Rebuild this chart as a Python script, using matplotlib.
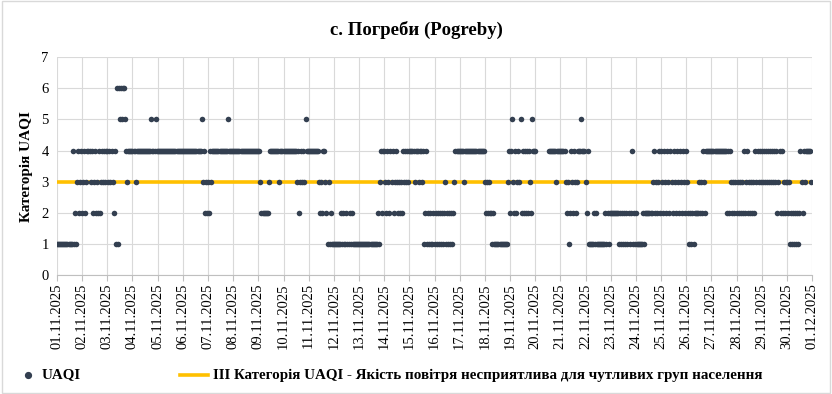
import numpy as np
import matplotlib
matplotlib.use("Agg")
import matplotlib.pyplot as plt
from matplotlib.lines import Line2D

# Hourly UAQI category per day (24 digits per day, '-' = no data), 01.11.2025 .. 30.11.2025
uaqi_days = [
    "111111111111111412134234",  # 01.11
    "234234443423423242343434",  # 02.11
    "434343241616565665434444",  # 03.11
    "444344444444444444544454",  # 04.11
    "444444444444444444444444",  # 05.11
    "444444444444444444534232",  # 06.11
    "324344444444444444454444",  # 07.11
    "444444444444444444444444",  # 08.11
    "443222222234444444443444",  # 09.11
    "444444444444434234343544",  # 10.11
    "444444444432324432131211",  # 11.11
    "111111121211211212111111",  # 12.11
    "111111111111111111213424",  # 13.11
    "432432434234323232434343",  # 14.11
    "444443444344341241212112",  # 15.11
    "121212121231212121234444",  # 16.11
    "444434444444444444444444",  # 17.11
    "323232212111111111111134",  # 18.11
    "245324234352424242432544",  # 19.11
    "4------------44444443444",  # 20.11
    "444443231243243234445444",  # 21.11
    "324111112121111111121212",  # 22.11
    "222222221212121212124121",  # 23.11
    "211111121222222234232342",  # 24.11
    "432432432432432432432432",  # 25.11
    "432121212222323243244444",  # 26.11
    "444444444444444242432323",  # 27.11
    "232323242342323232434343",  # 28.11
    "434343434343434234242323",  # 29.11
    "323121212121243243444443",  # 30.11
]
tick_labels = [f"{d:02d}.11.2025" for d in range(1, 31)] + ["01.12.2025"]
threshold_value = 3
title = "с. Погреби (Pogreby)"
ylabel = "Категорія UAQI"
legend_points = "UAQI"
legend_line = "III Категорія UAQI - Якість повітря несприятлива для чутливих груп населення"

vals = []
for s in uaqi_days:
    for ch in s:
        vals.append(np.nan if ch == "-" else float(ch))
vals = np.array(vals)
x = np.arange(len(vals)) / 24.0

plt.rcParams["font.family"] = ["Liberation Serif", "DejaVu Serif"]

W, H = 832, 394
fig = plt.figure(figsize=(W / 100, H / 100), dpi=100)
fig.patch.set_facecolor("white")
ax = fig.add_axes([0.0685, 0.302, 0.9075, 0.553])

dot_color = "#333F50"
line_color = "#FFC000"
ax.scatter(x, vals, s=16, color=dot_color, zorder=3, linewidths=0)
ax.plot([0, len(tick_labels) - 1], [threshold_value, threshold_value], color=line_color,
        lw=2.6, zorder=2)

ax.set_xlim(0, len(tick_labels) - 1)
ax.set_ylim(0, 7)
ax.set_yticks(range(0, 8))
ax.set_xticks(range(len(tick_labels)))
ax.set_xticklabels(tick_labels, rotation=90, fontsize=10.5)
ax.tick_params(axis="y", labelsize=10.5, length=0, pad=6)
ax.tick_params(axis="x", length=4, color="#BFBFBF", pad=2)
ax.grid(True, color="#D9D9D9", lw=0.8, zorder=0)
for sp in ["top", "right", "left"]:
    ax.spines[sp].set_visible(False)
ax.spines["bottom"].set_color("#BFBFBF")
ax.set_ylabel(ylabel, fontsize=11, fontweight="bold", labelpad=6)
fig.text(0.5, 0.925, title, ha="center", va="center", fontsize=13.5, fontweight="bold")

# legend (drawn in figure coordinates)
ly = 1 - 375 / H
fig.add_artist(Line2D([28 / W], [ly], marker="o", markersize=4.2, color=dot_color,
                      linestyle="none", transform=fig.transFigure))
fig.text(42 / W, ly, legend_points, ha="left", va="center", fontsize=10.8, fontweight="bold")
fig.add_artist(Line2D([180 / W, 208 / W], [ly, ly], color=line_color, lw=2.6,
                      transform=fig.transFigure))
fig.text(213 / W, ly, legend_line, ha="left", va="center", fontsize=10.8, fontweight="bold")

# outer chart border
fig.patches.append(plt.Rectangle((0.002, 0.003), 0.996, 0.994, transform=fig.transFigure,
                                 fill=False, edgecolor="#D9D9D9", lw=1))
fig.savefig("out.png", dpi=100)
